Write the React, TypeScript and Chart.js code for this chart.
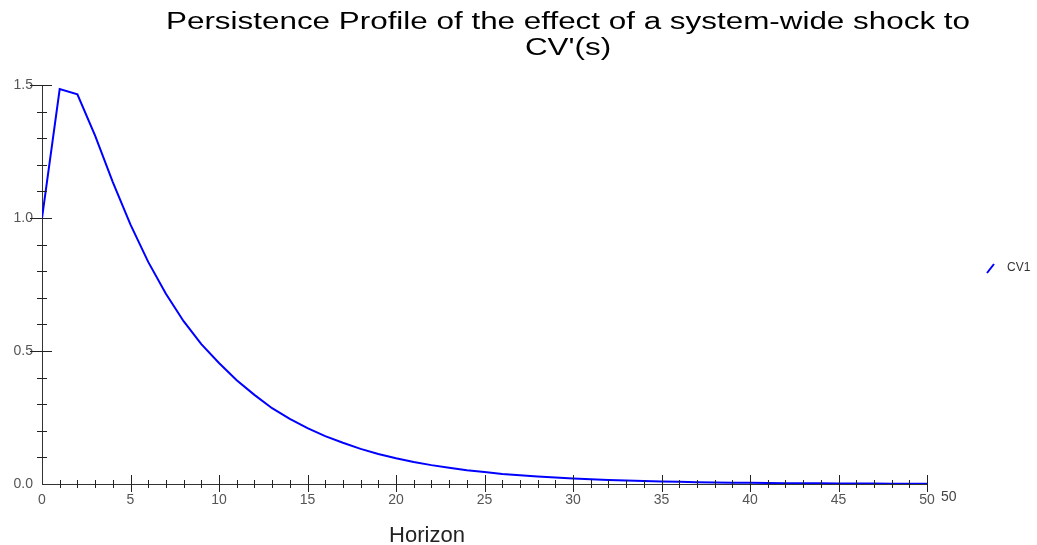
import React, { useEffect, useRef } from "react";
import { Chart, registerables } from "chart.js";

Chart.register(...registerables);

const horizon = [
  0, 1, 2, 3, 4, 5, 6, 7, 8, 9, 10, 11, 12, 13, 14, 15, 16, 17, 18, 19, 20,
  21, 22, 23, 24, 25, 26, 27, 28, 29, 30, 31, 32, 33, 34, 35, 36, 37, 38, 39, 40,
  41, 42, 43, 44, 45, 46, 47, 48, 49, 50,
];
const cv1 = [
  1.0, 1.485, 1.465, 1.31, 1.135, 0.975, 0.835, 0.715, 0.612, 0.526, 0.455,
  0.39, 0.335, 0.285, 0.245, 0.21, 0.18, 0.155, 0.132, 0.113, 0.097,
  0.083, 0.071, 0.061, 0.052, 0.045, 0.038, 0.033, 0.028, 0.024, 0.021,
  0.018, 0.015, 0.013, 0.011, 0.0095, 0.008, 0.007, 0.006, 0.005, 0.0044,
  0.0038, 0.0032, 0.0028, 0.0024, 0.002, 0.0017, 0.0015, 0.0013, 0.0011, 0.001,
];
const yMajorTicks = [0, 0.5, 1.0, 1.5];
const xMajorTicks = [0, 5, 10, 15, 20, 25, 30, 35, 40, 45, 50];
const titleLines = [
  "Persistence Profile of the effect of a system-wide shock to",
  "CV'(s)",
];
const xAxisTitle = "Horizon";
const xEndLabel = "50";
const seriesName = "CV1";

const FONT = '"Liberation Sans", Arial, sans-serif';

const decorPlugin = {
  id: "decor",
  afterDatasetsDraw(chart: any) {
    const { ctx, chartArea: ca, scales } = chart;
    const xs = scales.x;
    const ys = scales.y;
    ctx.save();
    ctx.strokeStyle = "#222";
    ctx.lineWidth = 1;
    ctx.beginPath();
    // x tick marks: every unit, major every 5
    for (let i = 1; i < horizon.length; i++) {
      const v = horizon[i];
      const px = Math.round(xs.getPixelForValue(v)) + 0.5;
      const major = xMajorTicks.includes(v);
      ctx.moveTo(px, ca.bottom - (major ? 9 : 4));
      ctx.lineTo(px, ca.bottom + (major ? 8 : 4));
    }
    // y tick marks: every 0.1, major every 0.5
    for (let k = 1; k <= 15; k++) {
      const v = k / 10;
      const py = Math.round(ys.getPixelForValue(v)) + 0.5;
      const major = k % 5 === 0;
      ctx.moveTo(ca.left - (major ? 12 : 5), py);
      ctx.lineTo(ca.left + (major ? 10 : 5), py);
    }
    ctx.stroke();

    // title: glyphs in the reference are horizontally stretched
    ctx.fillStyle = "#000";
    ctx.font = `23px ${FONT}`;
    ctx.textAlign = "center";
    ctx.textBaseline = "alphabetic";
    const w = ctx.measureText(titleLines[0]).width;
    const sx = 804 / w;
    ctx.save();
    ctx.translate(568, 0);
    ctx.scale(sx, 1);
    ctx.fillText(titleLines[0], 0, 28.5);
    ctx.fillText(titleLines[1], 0, 55);
    ctx.restore();

    // x axis title
    ctx.fillStyle = "#222";
    ctx.font = `22px ${FONT}`;
    ctx.fillText(xAxisTitle, 427, 542);

    // extra end label
    ctx.fillStyle = "#444";
    ctx.font = `14px ${FONT}`;
    ctx.textAlign = "left";
    ctx.textBaseline = "middle";
    ctx.fillText(xEndLabel, ca.right + 14, ca.bottom + 13);

    // legend
    const ly = 268;
    ctx.strokeStyle = "#0000ff";
    ctx.lineWidth = 2;
    ctx.beginPath();
    ctx.moveTo(ca.right + 60, ly + 5);
    ctx.lineTo(ca.right + 67, ly - 4);
    ctx.stroke();
    ctx.fillStyle = "#333";
    ctx.font = `12px ${FONT}`;
    ctx.fillText(seriesName, ca.right + 80, ly);
    ctx.restore();
  },
};

export default function App() {
  const ref = useRef<HTMLCanvasElement>(null);
  useEffect(() => {
    if (!ref.current) return;
    const chart = new Chart(ref.current, {
      type: "line",
      data: {
        datasets: [
          {
            label: seriesName,
            data: horizon.map((h, i) => ({ x: h, y: cv1[i] })),
            borderColor: "#0000ff",
            borderWidth: 2,
            pointRadius: 0,
            tension: 0,
            fill: false,
          },
        ],
      },
      options: {
        responsive: false,
        animation: false,
        layout: { padding: { left: 0, right: 110, top: 85, bottom: 0 } },
        plugins: {
          legend: { display: false },
          title: { display: false },
          tooltip: { enabled: false },
        },
        scales: {
          x: {
            type: "linear",
            min: 0,
            max: 50,
            afterFit: (s: any) => {
              s.height = 61;
            },
            afterBuildTicks: (s: any) => {
              s.ticks = xMajorTicks.map((v) => ({ value: v }));
            },
            grid: { display: false, drawTicks: false },
            border: { display: true, color: "#333", width: 1 },
            ticks: {
              padding: 8,
              color: "#555",
              font: { family: FONT, size: 14 },
              maxRotation: 0,
              autoSkip: false,
              callback: (v: any) => String(v),
            },
          },
          y: {
            type: "linear",
            min: 0,
            max: 1.5,
            afterFit: (s: any) => {
              s.width = 42;
            },
            afterBuildTicks: (s: any) => {
              s.ticks = yMajorTicks.map((v) => ({ value: v }));
            },
            grid: { display: false, drawTicks: false },
            border: { display: true, color: "#333", width: 1 },
            ticks: {
              padding: 9,
              color: "#555",
              font: { family: FONT, size: 14 },
              autoSkip: false,
              callback: (v: any) => Number(v).toFixed(1),
            },
          },
        },
      },
      plugins: [decorPlugin],
    });
    return () => chart.destroy();
  }, []);
  return (
    <div
      style={{
        position: "absolute",
        left: 0,
        top: 0,
        width: 1037,
        height: 545,
        background: "#fff",
      }}
    >
      <canvas ref={ref} width={1037} height={545} style={{ display: "block" }} />
    </div>
  );
}
